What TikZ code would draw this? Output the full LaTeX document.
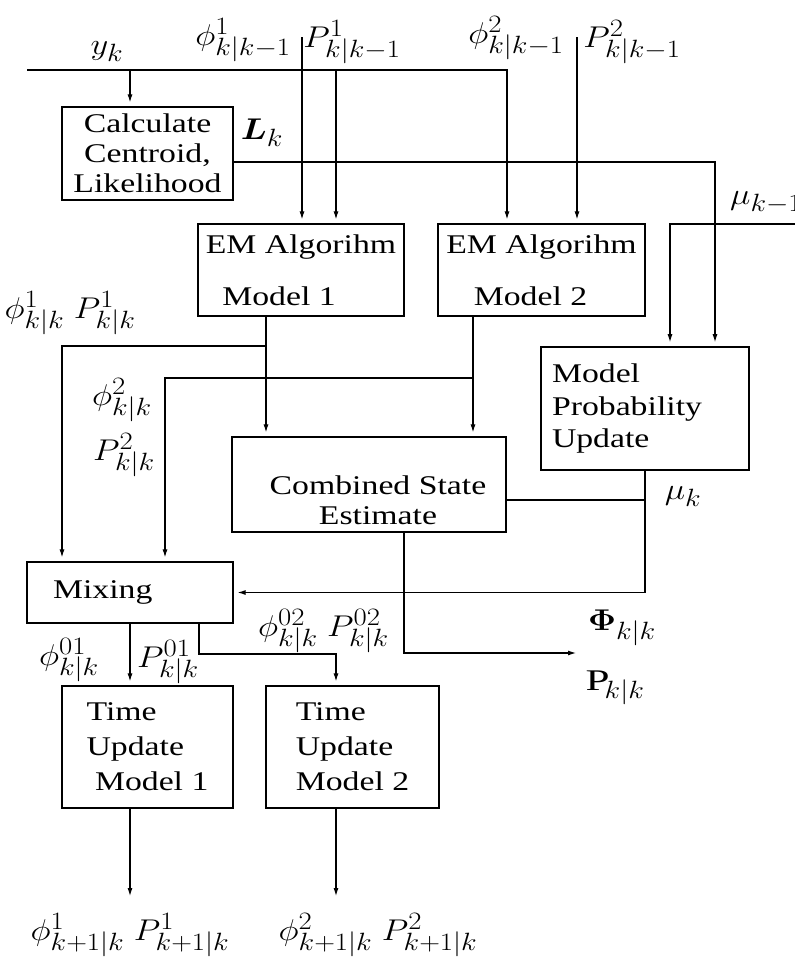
\RequirePackage{fix-cm}
\documentclass[tikz,border=0pt]{standalone}
\usepackage{bm}
\usepackage{graphicx}
\usepackage{fontspec}
\setmainfont{Liberation Serif}[FakeStretch=1.25]
\usetikzlibrary{arrows.meta,positioning}
\DeclareMathSizes{30}{30}{25}{18}
\newcommand{\sig}[1]{\scalebox{1.15}[1]{$#1$}}

\tikzset{
  blk/.style={draw, line width=1.2pt, inner sep=0pt, align=center},
  wire/.style={line width=1.1pt},
  arr/.style={wire, -{Latex[length=8pt,width=5pt]}, shorten >=4pt},
  lbl/.style={inner sep=0pt, font=\fontsize{30}{32}\selectfont},
}

\begin{document}
\begin{tikzpicture}[x=1pt, y=-1pt, font=\fontsize{27}{30}\selectfont]
    \useasboundingbox (0,0) rectangle (795,970);

    % Blocks
    \node[blk, minimum width=171, minimum height=93] (calc) at (147.5,153.5) {Calculate\\Centroid,\\Likelihood};
    \node[blk, minimum width=206, minimum height=92] (em1) at (301,270) {EM Algorihm\\[22pt]Model 1\hspace*{44pt}};
    \node[blk, minimum width=207, minimum height=92] (em2) at (541.5,270) {EM Algorihm\\[22pt]Model 2\hspace*{22pt}};
    \node[blk, line width=1.6pt, minimum height=123, text width=186, inner xsep=11, align=left,
          font=\fontsize{27}{33}\selectfont] (mpu) at (645,408.5) {Model\\Probability\\Update};
    \node[blk, minimum width=274, minimum height=95] (comb) at (369,484.5) {};
    \node[align=center, inner sep=0pt] (combtxt) at (378,500) {Combined State\\Estimate};
    \node[blk, minimum height=61, text width=154, inner xsep=26, align=left] (mix) at (130,592.5) {Mixing};
    \node[blk, minimum width=171, minimum height=122, align=left,
          font=\fontsize{27}{35}\selectfont] (tu1) at (147.5,747) {Time\\Update\\\ Model 1};
    \node[blk, minimum width=173, minimum height=122, align=left,
          font=\fontsize{27}{35}\selectfont] (tu2) at (352.5,747) {Time\\Update\\Model 2};

    % Signal labels
    \node[lbl] (yk) at (107,52) {\sig{y_k}};
    \node[lbl] (phia) at (243,40) {\sig{\phi^{1}_{k|k-1}}};
    \node[lbl] (pa) at (352,42) {\sig{P^{1}_{k|k-1}}};
    \node[lbl] (phib) at (516,38) {\sig{\phi^{2}_{k|k-1}}};
    \node[lbl] (pb) at (632,42) {\sig{P^{2}_{k|k-1}}};
    \node[lbl] (lk) at (262,133) {\sig{\bm{L}_k}};
    \node[lbl, anchor=west] (mukml) at (730,203) {\sig{\mu_{k-1}}};
    \node[lbl] (estone) at (70,313) {\sig{\phi^{1}_{k|k}\;P^{1}_{k|k}}};
    \node[lbl] (phiest) at (122,400) {\sig{\phi^{2}_{k|k}}};
    \node[lbl] (pest) at (124,455) {\sig{P^{2}_{k|k}}};
    \node[lbl] (mukl) at (683,497) {\sig{\mu_k}};
    \node[lbl] (phiout) at (622,628) {\sig{\bm{\Phi}_{k|k}}};
    \node[lbl] (pout) at (615,688) {\sig{\mathrm{P}_{k|k}}};
    \node[lbl] (phimo) at (69,660) {\sig{\phi^{01}_{k|k}}};
    \node[lbl] (pmo) at (168,662) {\sig{P^{01}_{k|k}}};
    \node[lbl] (phimt) at (288,631) {\sig{\phi^{02}_{k|k}}};
    \node[lbl] (pmt) at (358,631) {\sig{P^{02}_{k|k}}};
    \node[lbl] (predone) at (130,935) {\sig{\phi^{1}_{k+1|k}\;P^{1}_{k+1|k}}};
    \node[lbl] (predtwo) at (378,935) {\sig{\phi^{2}_{k+1|k}\;P^{2}_{k+1|k}}};

    % Connector ends and bends
    \coordinate (yin) at (27,70);
    \coordinate (ytap) at (130,70);
    \coordinate (phione) at (302,37);
    \coordinate (pone) at (336,70);
    \coordinate (phtwo) at (507,70);
    \coordinate (ptwo) at (577,37);
    \coordinate (lkc) at (715,162);
    \coordinate (mukm) at (795,224);
    \coordinate (mukmx) at (670,224);
    \coordinate (eone) at (266,346);
    \coordinate (mixa) at (62,346);
    \coordinate (etwo) at (473,378);
    \coordinate (mixb) at (165,378);
    \coordinate (mu) at (645,500);
    \coordinate (cout) at (404,653);
    \coordinate (cend) at (580,653);
    \coordinate (mo1) at (130,623);
    \coordinate (mo2) at (199,654);
    \coordinate (mo2b) at (336,654);
    \coordinate (to1) at (130,900);
    \coordinate (to2) at (336,900);

    % Inputs
    \draw[arr] (yin) -- (phtwo) -- (phtwo |- em2.north);
    \draw[arr] (ytap) -- (ytap |- calc.north);
    \draw[arr] (phione) -- (phione |- em1.north);
    \draw[arr] (pone) -- (pone |- em1.north);
    \draw[arr] (ptwo) -- (ptwo |- em2.north);
    \draw[arr] (calc.east |- lkc) -- (lkc) -- (lkc |- mpu.north);
    \draw[arr] (mukm) -- (mukmx) -- (mukmx |- mpu.north);

    % EM outputs
    \draw[arr] (eone |- em1.south) -- (eone |- comb.north);
    \draw[arr] (eone) -- (mixa) -- (mixa |- mix.north);
    \draw[arr] (etwo |- em2.south) -- (etwo |- comb.north);
    \draw[arr] (etwo) -- (mixb) -- (mixb |- mix.north);

    % Model probabilities
    \draw[wire] (mu) -- (mu -| comb.east);
    \draw[arr] (mpu.south) -- (mpu.south |- mix.east) -- (mix.east);

    % Combined estimate
    \draw[arr] (comb.south -| cout) -- (cout) -- (cend);

    % Mixing to time update
    \draw[arr] (mix.south -| mo1) -- (mo1 |- tu1.north);
    \draw[arr] (mix.south -| mo2) -- (mo2) -- (mo2b) -- (mo2b |- tu2.north);
    \draw[arr] (tu1.south -| to1) -- (to1);
    \draw[arr] (tu2.south -| to2) -- (to2);
\end{tikzpicture}
\end{document}
